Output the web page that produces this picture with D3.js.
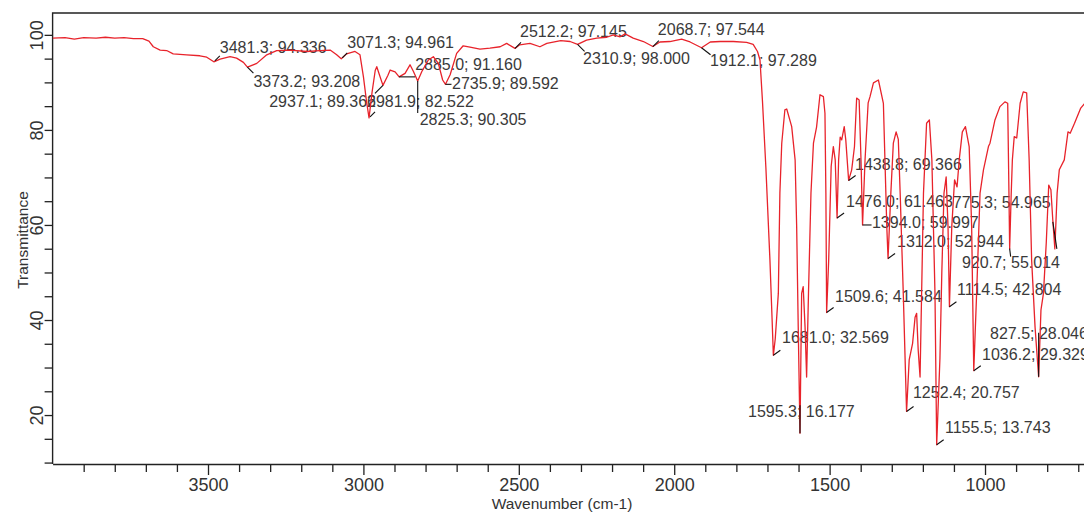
<!DOCTYPE html>
<html>
<head>
<meta charset="utf-8">
<script src="https://cdnjs.cloudflare.com/ajax/libs/d3/7.8.5/d3.min.js"></script>
<style>
body { margin: 0; background: #fff; }
svg { display: block; font-family: "Liberation Sans", Arial, sans-serif; }
</style>
</head>
<body>
<svg id="chart" width="1084" height="515"></svg>
<script>
// spectrum (cm-1 / %T)
var wavenumber = [
    4000, 3960, 3930, 3900, 3860, 3830, 3800, 3770, 3740, 3710, 3690, 3676, 3654, 3633, 3612, 3569, 3526, 3504,
    3481.3, 3461, 3429, 3408, 3386, 3373.2, 3343, 3311, 3279, 3236, 3182, 3140, 3107, 3086, 3071.3, 3054, 3027, 3011,
    3000, 2990, 2981.9, 2972, 2962, 2957, 2948, 2937.1, 2921, 2914, 2898, 2885.0, 2866, 2850, 2839, 2825.3, 2812,
    2791, 2775, 2759, 2745, 2735.9, 2721, 2700, 2679, 2657, 2625, 2593, 2560, 2539, 2512.2, 2497, 2464, 2432, 2410,
    2365, 2335, 2310.9, 2282, 2249, 2217, 2196, 2174, 2158, 2132, 2099, 2068.7, 2046, 2014, 1976, 1949, 1912.1,
    1884, 1852, 1810, 1767, 1746, 1732, 1724, 1716, 1705, 1692, 1685, 1681.0, 1675, 1665, 1660, 1654, 1644, 1638,
    1622, 1611, 1606, 1601, 1595.3, 1590, 1585, 1579, 1574, 1568, 1560, 1552, 1542, 1531, 1520, 1515, 1512, 1509.6,
    1503, 1495, 1488, 1482, 1476.0, 1471, 1466, 1461, 1453, 1448, 1438.8, 1429, 1420, 1413, 1405, 1399, 1394.0,
    1386, 1376, 1370, 1359, 1343, 1327, 1322, 1316, 1312.0, 1303, 1295, 1286, 1279, 1273, 1263, 1252.4, 1244, 1233,
    1225, 1220, 1215, 1209, 1204, 1198, 1188, 1179, 1171, 1161, 1155.5, 1145, 1139, 1132, 1125, 1119, 1114.5, 1107,
    1098, 1090, 1083, 1073, 1063, 1051, 1043, 1036.2, 1027, 1016, 1005, 989, 984, 968, 952, 936, 927, 923, 920.7,
    916, 912, 906, 898, 887, 877, 866, 858, 850, 839, 827.5, 820, 812, 803, 795, 788, 782, 775.3, 768, 761, 745,
    733, 726, 712, 692, 670, 650
];
var transmittance = [
    99.3, 99.4, 99.1, 99.4, 99.3, 99.5, 99.3, 99.4, 99.2, 99.2, 98.7, 97.5, 96.8, 96.7, 96.0, 95.8, 95.6, 95.3,
    94.336, 94.9, 95.4, 95.1, 94.2, 93.208, 94.0, 95.8, 96.7, 96.8, 96.5, 96.7, 96.8, 95.8, 94.961, 96.0, 96.5, 95.8,
    91.2, 86.0, 82.522, 88.0, 92.5, 93.3, 91.5, 89.366, 91.5, 92.6, 92.2, 91.160, 91.9, 93.7, 92.3, 90.305, 92.3,
    94.7, 95.4, 94.0, 90.5, 89.592, 91.6, 96.1, 97.7, 97.4, 97.0, 97.2, 97.5, 98.2, 97.145, 97.9, 98.2, 97.5, 98.2,
    98.8, 98.6, 98.000, 98.9, 99.3, 99.5, 100.0, 99.6, 100.2, 99.3, 98.6, 97.544, 98.5, 98.6, 99.1, 98.5, 97.289,
    98.5, 98.6, 98.6, 98.4, 98.0, 96.5, 94.7, 86.0, 72.0, 52.6, 40.0, 32.569, 36.0, 45.6, 66.7, 77.2, 84.2, 84.4,
    80.7, 73.7, 59.6, 38.6, 16.177, 45.6, 47.0, 38.5, 28.0, 45.6, 66.7, 77.2, 80.6, 87.4, 87.0, 83.5, 66.7, 41.584,
    52.6, 72.3, 76.5, 73.7, 61.463, 73.7, 78.5, 77.9, 80.7, 77.9, 69.366, 71.6, 76.5, 86.7, 86.3, 73.7, 59.997,
    73.7, 85.7, 87.0, 89.9, 90.5, 85.6, 73.7, 59.6, 52.944, 66.7, 77.2, 79.6, 78.0, 66.7, 45.6, 20.757, 31.6, 35.1,
    40.6, 41.4, 33.7, 28.0, 45.6, 66.7, 81.4, 82.1, 73.7, 45.6, 13.743, 32.0, 50.0, 66.7, 70.1, 59.6, 42.804, 59.6,
    69.5, 68.0, 73.7, 79.6, 80.7, 76.5, 59.6, 29.329, 45.6, 66.7, 71.6, 76.5, 77.2, 82.1, 84.9, 85.9, 85.6, 66.7, 55.014,
    66.0, 73.7, 78.6, 78.3, 85.6, 88.0, 87.8, 73.7, 52.6, 38.5, 28.046, 42.1, 45.6, 56.2, 68.4, 67.4, 61.1, 54.965, 66.7, 71.6, 73.7,
    79.6, 79.3, 81.4, 84.6, 86.3, 87.5
];

// picked peaks
var peakWavenumber = [3481.3, 3373.2, 3071.3, 2981.9, 2937.1, 2885.0, 2825.3, 2735.9, 2512.2, 2310.9, 2068.7, 1912.1,
    1681.0, 1595.3, 1509.6, 1476.0, 1438.8, 1394.0, 1312.0, 1252.4, 1155.5, 1114.5, 1036.2, 920.7, 827.5, 775.3];
var peakTransmittance = [94.336, 93.208, 94.961, 82.522, 89.366, 91.160, 90.305, 89.592, 97.145, 98.000, 97.544, 97.289,
    32.569, 16.177, 41.584, 61.463, 69.366, 59.997, 52.944, 20.757, 13.743, 42.804, 29.329, 55.014, 28.046, 54.965];

var xLabelTicks = [3500, 3000, 2500, 2000, 1500, 1000];
var xMinorTicks = [3900, 3800, 3700, 3600, 3400, 3300, 3200, 3100, 2900, 2800, 2700, 2600, 2400,
    2300, 2200, 2100, 1900, 1800, 1700, 1600, 1400, 1300, 1200, 1100, 900, 800, 700];
var yLabelTicks = [20, 40, 60, 80, 100];
var yMinorTicks = [10, 15, 25, 30, 35, 45, 50, 55, 65, 70, 75, 85, 90, 95];

// label placement: text dx, dy, anchor, leader x1, y1, x2, y2 (px, relative to the peak)
var labelPlace = [
    [6, -9, 'start', 1, -1, 6, -6],
    [6, 20, 'start', 0, 0, 6, 6],
    [6, -11, 'start', 1, -1, 6, -6],
    [-2, -11, 'start', 1, -1, 6, -6],
    [-7, 21.6, 'end', 0, 0, -8, 8],
    [16, -7, 'start', 0, 0, 16, 0],
    [2, 44, 'start', 0, 0, 0, 32],
    [6.5, 5, 'start', 0, 0, 6, 0],
    [5, -11.4, 'start', 0, 0, 6, -6],
    [5.5, 19.6, 'start', 0, 0, 7, 7],
    [5, -11.5, 'start', 0, 0, 6, -6],
    [8.5, 18.3, 'start', 0, 0, 9, 7],
    [8.7, -12, 'start', 0, 0, 7, -5],
    [-52, -16, 'start', 0, 0, 0, -28],
    [8.4, -10.5, 'start', 0, 0, 7, -5],
    [9, -11.3, 'start', 0, 0, 7, -5],
    [6.4, -10.4, 'start', 0, 0, 7, -5],
    [9.4, 3, 'start', 0, 0, 9, 0],
    [9, -11.5, 'start', 0, 0, 7, -5],
    [6.4, -13.5, 'start', 0, 0, 7, -5],
    [8.3, -11.8, 'start', 0, 0, 7, -5],
    [7.6, -11.7, 'start', 0, 0, 7, -5],
    [8.3, -10.7, 'start', 0, 0, 7, -5],
    [-47.6, 19.4, 'start', 0, 0, 1, 8],
    [-48.6, -37.8, 'start', 0, 0, 0, -44],
    [-102, -40.8, 'start', 2, 0, -2, -27]
];

var svg = d3.select('#chart');
var plotLeft = 52.6, plotTop = 13, plotBottom = 464, plotRight = 1084;

var x = d3.scaleLinear().domain([4000, 650]).range([plotLeft, 1093.8]);
var y = d3.scaleLinear().domain([9.7, 104.6]).range([plotBottom, plotTop]);

svg.append('defs').append('clipPath').attr('id', 'plotclip')
    .append('rect').attr('x', plotLeft).attr('y', plotTop)
    .attr('width', plotRight - plotLeft).attr('height', plotBottom - plotTop);

var axisColor = '#222';
var fontFam = '"Liberation Sans", Arial, sans-serif';

// x axis: minor ticks, then labelled ticks
var gxMinor = svg.append('g').attr('transform', 'translate(0,' + plotBottom + ')')
    .call(d3.axisBottom(x).tickValues(xMinorTicks).tickSize(8).tickSizeOuter(0).tickFormat(''));
var gxMajor = svg.append('g').attr('transform', 'translate(0,' + plotBottom + ')')
    .call(d3.axisBottom(x).tickValues(xLabelTicks).tickSize(11).tickSizeOuter(0).tickFormat(d3.format('d')));
gxMinor.select('path.domain').remove();
gxMajor.select('path.domain').attr('stroke', axisColor).attr('stroke-width', 1.4);
svg.selectAll('.tick line').attr('stroke', axisColor).attr('stroke-width', 1.3);
gxMajor.selectAll('text').attr('y', 14).attr('dy', '0.71em')
    .attr('font-size', 18).attr('fill', '#333').attr('font-family', fontFam);

// y axis
var gyMinor = svg.append('g').attr('transform', 'translate(' + plotLeft + ',0)')
    .call(d3.axisLeft(y).tickValues(yMinorTicks).tickSize(8).tickSizeOuter(0).tickFormat(''));
var gyMajor = svg.append('g').attr('transform', 'translate(' + plotLeft + ',0)')
    .call(d3.axisLeft(y).tickValues(yLabelTicks).tickSize(8).tickSizeOuter(0).tickFormat(d3.format('d')));
gyMinor.select('path.domain').remove();
gyMajor.select('path.domain').remove();
svg.selectAll('.tick line').attr('stroke', axisColor).attr('stroke-width', 1.3);
gyMajor.selectAll('text').attr('transform', 'rotate(-90)').attr('x', 0).attr('y', -10).attr('dy', 0)
    .attr('text-anchor', 'middle')
    .attr('font-size', 18).attr('fill', '#333').attr('font-family', fontFam);

// frame (top + left)
svg.append('path')
    .attr('d', 'M' + plotRight + ',' + plotTop + 'H' + plotLeft + 'V' + plotBottom)
    .attr('fill', 'none').attr('stroke', axisColor).attr('stroke-width', 1.4);

// axis titles
svg.append('text').attr('x', 562).attr('y', 509).attr('text-anchor', 'middle')
    .attr('font-size', 15.5).attr('fill', '#333').text('Wavenumber (cm-1)');
svg.append('text').attr('transform', 'translate(28,240) rotate(-90)').attr('text-anchor', 'middle')
    .attr('font-size', 15.5).attr('fill', '#333').text('Transmittance');

// peak labels
var peaks = peakWavenumber.map(function (w, i) {
    return { w: w, t: peakTransmittance[i], p: labelPlace[i] };
});
var fmtW = d3.format('.1f'), fmtT = d3.format('.3f');

svg.append('g').selectAll('text').data(peaks).enter().append('text')
    .attr('x', function (d) { return x(d.w) + d.p[0]; })
    .attr('y', function (d) { return y(d.t) + d.p[1]; })
    .attr('text-anchor', function (d) { return d.p[2]; })
    .attr('font-size', 16).attr('fill', '#3a3a3a')
    .text(function (d) { return fmtW(d.w) + '; ' + fmtT(d.t); });

// spectrum
var line = d3.line()
    .x(function (d) { return x(d[0]); })
    .y(function (d) { return y(d[1]); });

svg.append('path')
    .datum(d3.zip(wavenumber, transmittance))
    .attr('clip-path', 'url(#plotclip)')
    .attr('fill', 'none')
    .attr('stroke', '#e8232b')
    .attr('stroke-width', 1.3)
    .attr('stroke-linejoin', 'round')
    .attr('d', line);

// leader lines
svg.append('g').selectAll('line').data(peaks).enter().append('line')
    .attr('x1', function (d) { return x(d.w) + d.p[3]; })
    .attr('y1', function (d) { return y(d.t) + d.p[4]; })
    .attr('x2', function (d) { return x(d.w) + d.p[5]; })
    .attr('y2', function (d) { return y(d.t) + d.p[6]; })
    .attr('stroke', '#111').attr('stroke-width', 1.1);
</script>
</body>
</html>
